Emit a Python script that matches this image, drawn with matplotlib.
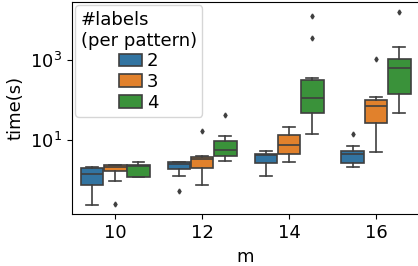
import matplotlib
matplotlib.use("Agg")
import matplotlib.pyplot as plt
import matplotlib.patches as mpatches
import numpy as np

plt.rcParams["font.family"] = ["DejaVu Sans"]
plt.rcParams["font.size"] = 13

# data (box stats per m, per #labels)
m_values = [10, 12, 14, 16]
hue_labels = ["2", "3", "4"]

lo_2 = [0.233, 1.24, 1.26, 2.08]
q1_2 = [0.75, 1.88, 2.61, 2.71]
med_2 = [1.41, 2.47, 4.34, 4.54]
q3_2 = [2.03, 2.77, 4.54, 5.3]
hi_2 = [2.07, 2.87, 5.4, 6.96]
fl_2 = [[], [0.52], [], [13.9]]

lo_3 = [0.96, 0.74, 2.77, 5.0]
q1_3 = [1.71, 1.96, 4.39, 26.6]
med_3 = [2.15, 3.29, 7.37, 69.6]
q3_3 = [2.37, 3.69, 13.1, 100]
hi_3 = [2.4, 4.05, 20.8, 119]
fl_3 = [[0.256], [16.8], [], [1060]]

lo_4 = [1.2, 3.04, 13.9, 46.5]
q1_4 = [1.21, 4.0, 46.5, 141]
med_4 = [2.28, 5.6, 110, 620]
q3_4 = [2.42, 9.6, 316, 1041]
hi_4 = [2.87, 12.6, 349, 2113]
fl_4 = [[], [42], [3610, 12600], [16100]]

series = [
    (lo_2, q1_2, med_2, q3_2, hi_2, fl_2),
    (lo_3, q1_3, med_3, q3_3, hi_3, fl_3),
    (lo_4, q1_4, med_4, q3_4, hi_4, fl_4),
]
colors = ["#3274a1", "#e1812c", "#3a923a"]
edge = "#3f3f3f"

fig = plt.figure(figsize=(4.18, 2.66), dpi=100)
ax = fig.add_axes([0.1715, 0.1944, 0.832, 0.7992])

w = 0.8 / 3
x = np.arange(len(m_values))
for i, (lo, q1, med, q3, hi, fl) in enumerate(series):
    stats = []
    for j in range(len(m_values)):
        stats.append(dict(whislo=lo[j], q1=q1[j], med=med[j], q3=q3[j],
                          whishi=hi[j], fliers=fl[j]))
    pos = x + (i - 1) * w
    ax.bxp(stats, positions=pos, widths=w * 0.98, capwidths=w / 2,
           patch_artist=True, manage_ticks=False,
           boxprops=dict(facecolor=colors[i], edgecolor=edge, linewidth=1.2),
           medianprops=dict(color=edge, linewidth=1.2),
           whiskerprops=dict(color=edge, linewidth=1.2),
           capprops=dict(color=edge, linewidth=1.2),
           flierprops=dict(marker="d", markersize=2.5, markerfacecolor=edge,
                           markeredgecolor=edge))

ax.set_yscale("log")
ax.set_ylim(0.139, 28670)
ax.set_xlim(-0.5, 3.5)
ax.set_yticks([10, 1000])
ax.yaxis.set_minor_locator(matplotlib.ticker.NullLocator())
ax.set_xticks(x)
ax.set_xticklabels([str(m) for m in m_values])
ax.set_xlabel("m")
ax.set_ylabel("time(s)")

handles = [mpatches.Patch(facecolor=c, edgecolor=edge, linewidth=1.2) for c in colors]
ax.legend(handles, hue_labels, title="#labels\n(per pattern)", loc="upper left",
          borderaxespad=0.2, handlelength=1.25, handletextpad=0.25,
          labelspacing=0.15, title_fontsize=13, fontsize=13,
          borderpad=0.3)

fig.savefig("out.png", dpi=100)
